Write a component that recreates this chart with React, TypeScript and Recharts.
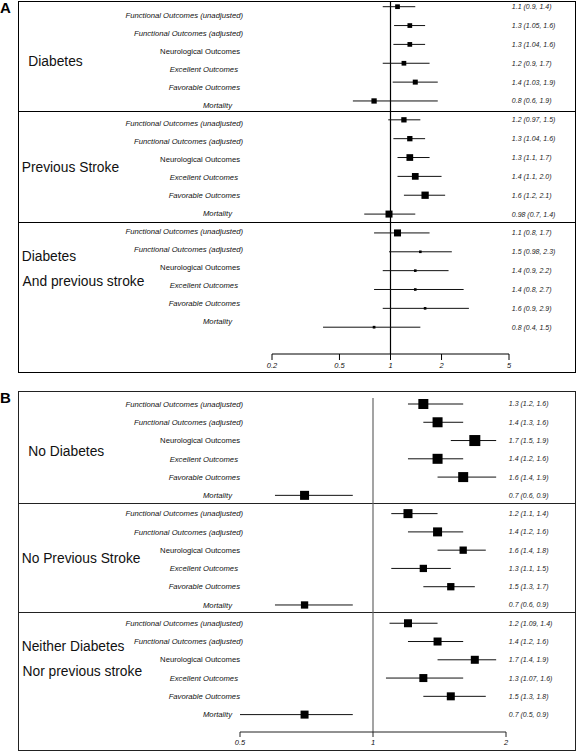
import React from 'react';
import { ScatterChart, Scatter, XAxis, YAxis, ErrorBar, ReferenceLine } from 'recharts';

// outcome rows, repeated in every subgroup
const outcomes = [
  'Functional Outcomes (unadjusted)',
  'Functional Outcomes (adjusted)',
  'Neurological Outcomes',
  'Excellent Outcomes',
  'Favorable Outcomes',
  'Mortality',
];

// panel A: patients with diabetes / previous stroke
const groupsA = [['Diabetes'], ['Previous Stroke'], ['Diabetes', 'And previous stroke']];
const estA = [1.1, 1.3, 1.3, 1.2, 1.4, 0.8, 1.2, 1.3, 1.3, 1.4, 1.6, 0.98, 1.1, 1.5, 1.4, 1.4, 1.6, 0.8];
const loA = [0.9, 1.05, 1.04, 0.9, 1.03, 0.6, 0.97, 1.04, 1.1, 1.1, 1.2, 0.7, 0.8, 0.98, 0.9, 0.8, 0.9, 0.4];
const hiA = [1.4, 1.6, 1.6, 1.7, 1.9, 1.9, 1.5, 1.6, 1.7, 2.0, 2.1, 1.4, 1.7, 2.3, 2.2, 2.7, 2.9, 1.5];
const weightA = [4.7, 4.7, 4.7, 4.7, 5, 5.3, 5.3, 5.3, 6.7, 6.7, 7.3, 7, 7, 2.6, 2.6, 2.6, 2.6, 2.7];
const textA = [
  '1.1 (0.9, 1.4)', '1.3 (1.05, 1.6)', '1.3 (1.04, 1.6)', '1.2 (0.9, 1.7)', '1.4 (1.03, 1.9)', '0.8 (0.6, 1.9)',
  '1.2 (0.97, 1.5)', '1.3 (1.04, 1.6)', '1.3 (1.1, 1.7)', '1.4 (1.1, 2.0)', '1.6 (1.2, 2.1)', '0.98 (0.7, 1.4)',
  '1.1 (0.8, 1.7)', '1.5 (0.98, 2.3)', '1.4 (0.9, 2.2)', '1.4 (0.8, 2.7)', '1.6 (0.9, 2.9)', '0.8 (0.4, 1.5)',
];
const ticksA = [0.2, 0.5, 1, 2, 5];

// panel B: patients without diabetes / previous stroke
const groupsB = [['No Diabetes'], ['No Previous Stroke'], ['Neither Diabetes', 'Nor previous stroke']];
const estB = [1.3, 1.4, 1.7, 1.4, 1.6, 0.7, 1.2, 1.4, 1.6, 1.3, 1.5, 0.7, 1.2, 1.4, 1.7, 1.3, 1.5, 0.7];
const loB = [1.2, 1.3, 1.5, 1.2, 1.4, 0.6, 1.1, 1.2, 1.4, 1.1, 1.3, 0.6, 1.09, 1.2, 1.4, 1.07, 1.3, 0.5];
const hiB = [1.6, 1.6, 1.9, 1.6, 1.9, 0.9, 1.4, 1.6, 1.8, 1.5, 1.7, 0.9, 1.4, 1.6, 1.9, 1.6, 1.8, 0.9];
const weightB = [10, 10, 11, 10, 10, 9, 9, 9, 7.3, 7.3, 7.3, 7.3, 8, 8, 8, 8, 8, 8];
const textB = [
  '1.3 (1.2, 1.6)', '1.4 (1.3, 1.6)', '1.7 (1.5, 1.9)', '1.4 (1.2, 1.6)', '1.6 (1.4, 1.9)', '0.7 (0.6, 0.9)',
  '1.2 (1.1, 1.4)', '1.4 (1.2, 1.6)', '1.6 (1.4, 1.8)', '1.3 (1.1, 1.5)', '1.5 (1.3, 1.7)', '0.7 (0.6, 0.9)',
  '1.2 (1.09, 1.4)', '1.4 (1.2, 1.6)', '1.7 (1.4, 1.9)', '1.3 (1.07, 1.6)', '1.5 (1.3, 1.8)', '0.7 (0.5, 0.9)',
];
const ticksB = [0.5, 1, 2];

const rowIdx = estA.map((_, i) => i);
const italic = [true, true, false, true, true, true];
const labelEnd = [243, 243, 240, 238, 240, 232]; // page x where each outcome label ends

const FONT = '"Liberation Sans", Arial, Helvetica, sans-serif';
const BOX_LEFT = 18;
const BOX_W = 558;

function makeRows(est: number[], lo: number[], hi: number[], w: number[], text: string[]) {
  return est.map((v, i) => ({ row: i, est: v, err: [v - lo[i], hi[i] - v], size: w[i], text: text[i] }));
}

const Square = (props: any) => {
  const { cx, cy, payload } = props;
  const s = payload.size;
  return <rect x={cx - s / 2} y={cy - s / 2} width={s} height={s} fill="#000" />;
};

const Nothing = () => <g />;

type PanelProps = {
  letter: string;
  rows: any[];
  groups: string[][];
  groupPos: { left: number; top: number }[][];
  ticks: number[];
  boxTop: number;
  boxH: number;
  seps: number[];
  chartTop: number;
  chartH: number;
  leftW: number;
  rightW: number;
  valPad: { top: number; bottom: number };
  labPad: { top: number; bottom: number };
  refColor: string;
  tickSize: number;
  tickMargin: number;
  lineColor: string;
};

function Panel(p: PanelProps) {
  const outcomeTick = (t: any) => {
    const k = t.payload.value % 6;
    return (
      <text x={labelEnd[k] - BOX_LEFT} y={t.y} dy="0.35em" textAnchor="end" fontSize={7.7}
        fontStyle={italic[k] ? 'italic' : 'normal'} style={{ fill: '#111' }}>
        {outcomes[k]}
      </text>
    );
  };
  const ciTick = (t: any) => (
    <text x={t.x + 2.8} y={t.y} dy="0.35em" textAnchor="start" fontSize={7} fontStyle="italic" style={{ fill: '#222' }}>
      {p.rows[t.payload.value].text}
    </text>
  );

  return (
    <>
      <div style={{ position: 'absolute', left: 0, top: p.boxTop - 1.5, fontWeight: 'bold', fontSize: 15, lineHeight: '15px' }}>
        {p.letter}
      </div>
      <div style={{ position: 'absolute', left: BOX_LEFT, top: p.boxTop, width: BOX_W, height: p.boxH,
        boxSizing: 'border-box', border: `1px solid ${p.lineColor}` }} />
      {p.seps.map((y) => (
        <div key={y} style={{ position: 'absolute', left: BOX_LEFT, top: y, width: BOX_W, height: 1, background: p.lineColor }} />
      ))}
      {p.groups.map((lines, g) =>
        lines.map((line, j) => (
          <div key={g + '-' + j} style={{ position: 'absolute', left: p.groupPos[g][j].left, top: p.groupPos[g][j].top,
            fontSize: 13.8, lineHeight: '13.8px', whiteSpace: 'nowrap', color: '#111' }}>
            {line}
          </div>
        ))
      )}
      <div style={{ position: 'absolute', left: BOX_LEFT, top: p.chartTop }}>
        <ScatterChart width={BOX_W - 1} height={p.chartH} margin={{ top: 0, right: 0, bottom: 0, left: 0 }}>
          <XAxis type="number" dataKey="est" scale="log" domain={[p.ticks[0], p.ticks[p.ticks.length - 1]]}
            ticks={p.ticks} interval={0} allowDataOverflow height={18}
            tickSize={p.tickSize} tickMargin={p.tickMargin} stroke={p.lineColor}
            tick={{ fontSize: 7.5, fontStyle: 'italic', fill: '#111' }} tickFormatter={(v: number) => String(v)} />
          <YAxis yAxisId="lab" type="number" dataKey="row" domain={[0, 17]} reversed ticks={rowIdx} interval={0}
            width={p.leftW} padding={p.labPad} axisLine={false} tickLine={false} tick={outcomeTick} />
          <YAxis yAxisId="val" orientation="right" type="number" dataKey="row" domain={[0, 17]} reversed
            ticks={rowIdx} interval={0} width={p.rightW} padding={p.valPad} axisLine={false} tickLine={false}
            tickSize={0} tickMargin={0} tick={ciTick} />
          <ReferenceLine x={1} yAxisId="val" stroke={p.refColor} strokeWidth={1.2} />
          {/* invisible series so the label axis gets its scale */}
          <Scatter data={p.rows} yAxisId="lab" shape={Nothing} isAnimationActive={false} />
          <Scatter data={p.rows} yAxisId="val" shape={Square} isAnimationActive={false}>
            <ErrorBar dataKey="err" direction="x" width={0} stroke="#111" strokeWidth={1} isAnimationActive={false} />
          </Scatter>
        </ScatterChart>
      </div>
    </>
  );
}

export default function App() {
  const rowsA = makeRows(estA, loA, hiA, weightA, textA);
  const rowsB = makeRows(estB, loB, hiB, weightB, textB);
  return (
    <div style={{ position: 'absolute', left: 0, top: 0, width: 576, height: 751, background: '#fff', fontFamily: FONT }}>
      <Panel
        letter="A" rows={rowsA} groups={groupsA} ticks={ticksA}
        groupPos={[
          [{ left: 28.3, top: 55 }],
          [{ left: 21.7, top: 160.6 }],
          [{ left: 21.7, top: 250 }, { left: 22.5, top: 275 }],
        ]}
        boxTop={1} boxH={372} seps={[111, 222]}
        chartTop={1} chartH={371} leftW={254} rightW={66}
        valPad={{ top: 5.7, bottom: 26.8 }} labPad={{ top: 14, bottom: 32.3 }}
        refColor="#000" tickSize={6} tickMargin={2.4} lineColor="#000"
      />
      <Panel
        letter="B" rows={rowsB} groups={groupsB} ticks={ticksB}
        groupPos={[
          [{ left: 28.3, top: 445 }],
          [{ left: 21.7, top: 551.6 }],
          [{ left: 21.7, top: 639.6 }, { left: 22.5, top: 665 }],
        ]}
        boxTop={391} boxH={360} seps={[503, 612]}
        chartTop={398} chartH={352} leftW={222} rightW={69}
        valPad={{ top: 6, bottom: 17.4 }} labPad={{ top: 6, bottom: 17.4 }}
        refColor="#666" tickSize={5} tickMargin={3} lineColor="#222"
      />
    </div>
  );
}
